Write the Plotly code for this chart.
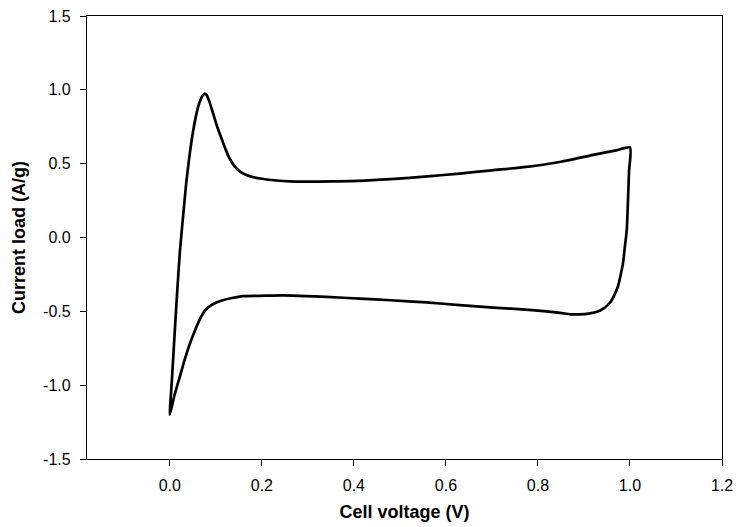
import plotly.graph_objects as go

# Anodic (forward) sweep: 0 V -> 1 V
v_fwd = [0.000, 0.004, 0.008, 0.012, 0.017, 0.022, 0.029, 0.036, 0.043, 0.050,
         0.056, 0.061, 0.067, 0.072, 0.076, 0.080, 0.086, 0.094, 0.103, 0.113,
         0.122, 0.130, 0.140, 0.152, 0.165, 0.180, 0.200, 0.232, 0.260, 0.300,
         0.350, 0.410, 0.480, 0.560, 0.630, 0.700, 0.780, 0.850, 0.920, 0.970, 1.000]
i_fwd = [-1.20, -0.99, -0.78, -0.57, -0.32, -0.09, 0.15, 0.38, 0.56, 0.71,
         0.81, 0.88, 0.935, 0.965, 0.975, 0.965, 0.92, 0.84, 0.75, 0.665,
         0.59, 0.535, 0.485, 0.448, 0.425, 0.41, 0.398, 0.386, 0.380, 0.378,
         0.380, 0.383, 0.395, 0.414, 0.433, 0.455, 0.480, 0.513, 0.560, 0.590, 0.610]

# Cathodic (reverse) sweep: 1 V -> 0 V
v_rev = [1.000, 0.998, 0.996, 0.993, 0.989, 0.985, 0.980, 0.974, 0.966, 0.957,
         0.943, 0.927, 0.910, 0.891, 0.870, 0.848, 0.780, 0.703, 0.630, 0.558,
         0.480, 0.413, 0.340, 0.268, 0.220, 0.196, 0.159, 0.135, 0.115, 0.101,
         0.087, 0.075, 0.065, 0.054, 0.043, 0.032, 0.022, 0.010, 0.000]
i_rev = [0.610, 0.45, 0.28, 0.05, -0.06, -0.17, -0.25, -0.33, -0.39, -0.44,
         -0.48, -0.505, -0.515, -0.52, -0.52, -0.51, -0.49, -0.475, -0.458, -0.44,
         -0.425, -0.414, -0.402, -0.393, -0.393, -0.395, -0.397, -0.41, -0.425, -0.44,
         -0.465, -0.50, -0.555, -0.635, -0.725, -0.83, -0.94, -1.07, -1.20]

x_ticks = [0.0, 0.2, 0.4, 0.6, 0.8, 1.0, 1.2]
x_tick_text = ["0.0", "0.2", "0.4", "0.6", "0.8", "1.0", "1.2"]
y_ticks = [-1.5, -1.0, -0.5, 0.0, 0.5, 1.0, 1.5]
y_tick_text = ["-1.5", "-1.0", "-0.5", "0.0", "0.5", "1.0", "1.5"]

fig = go.Figure()
fig.add_trace(go.Scatter(
    x=v_fwd + v_rev[1:], y=i_fwd + i_rev[1:], mode="lines",
    line=dict(color="black", width=2.7, shape="spline", smoothing=0.6),
    showlegend=False, hoverinfo="skip"))

font_family = "Liberation Sans, Arial, sans-serif"
fig.update_layout(
    width=737, height=527,
    margin=dict(l=87, r=15, t=16, b=68),
    plot_bgcolor="white", paper_bgcolor="white",
    font=dict(family=font_family, color="black", size=16),
    xaxis=dict(range=[-0.18, 1.2], tickvals=x_ticks, ticktext=x_tick_text,
               showgrid=False, zeroline=False, showline=True, mirror=True,
               linecolor="black", linewidth=1.2, ticks="outside", ticklen=6,
               tickcolor="black", tickwidth=1.2, tickfont=dict(size=16),
               ticklabelstandoff=6, automargin=False,
               title=dict(text="<b>Cell voltage (V)</b>", font=dict(size=18), standoff=12)),
    yaxis=dict(range=[-1.5, 1.5], tickvals=y_ticks, ticktext=y_tick_text,
               showgrid=False, zeroline=False, showline=True, mirror=True,
               linecolor="black", linewidth=1.2, ticks="outside", ticklen=6,
               tickcolor="black", tickwidth=1.2, tickfont=dict(size=16),
               ticklabelstandoff=6, automargin=False,
               title=dict(text="<b>Current load (A/g)</b>", font=dict(size=18), standoff=12)),
)

fig.write_html("out.html", config={"displayModeBar": False},
               post_script="document.body.style.margin='0';document.body.style.padding='0';")
